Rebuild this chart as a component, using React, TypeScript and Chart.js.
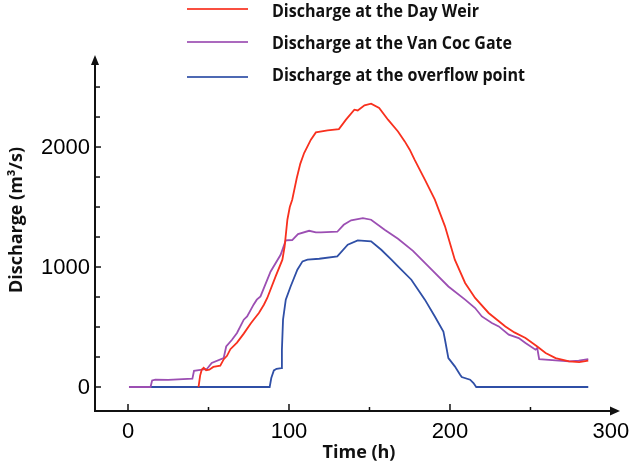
import React, { useEffect, useRef } from "react";
import { Chart, registerables } from "chart.js";

Chart.register(...registerables);

// ---- Data (time in hours, discharge in m3/s) ----
const dayWeirTime = [43.8, 44.8, 45.8, 47, 48.5, 50.5, 53, 57.3, 59.5, 61.5, 63.6, 67.7, 71.9, 76, 78, 81.3, 84.4, 86.5, 91.7, 95.9, 97.3, 99, 100.5, 102, 104.8, 107, 109.4, 113.6, 116.7, 124, 131, 135.4, 140.6, 142.7, 146.9, 151, 156, 161.5, 167.7, 171.9, 175, 178, 184.4, 190.6, 196.9, 203, 209.4, 215.6, 224, 234.4, 240, 246.9, 254.2, 259.4, 265.6, 274, 280.3, 285.9];
const dayWeirQ = [0, 95, 144, 160, 140, 144, 167, 178, 232, 260, 315, 370, 445, 525, 561, 617, 686, 742, 922, 1061, 1172, 1394, 1500, 1561, 1740, 1860, 1950, 2061, 2122, 2138, 2150, 2228, 2311, 2305, 2347, 2361, 2325, 2228, 2130, 2047, 1978, 1895, 1728, 1561, 1339, 1061, 867, 742, 617, 505, 455, 408, 338, 283, 241, 213, 208, 219];

const vanCocTime = [0.6, 14, 15, 17, 25, 40, 41, 45, 49, 52, 59.4, 61, 64.6, 67.7, 71.9, 74, 78, 80, 82.3, 88.6, 94.8, 98, 102, 105.6, 112.5, 116.7, 119.8, 130, 134, 138.6, 145.9, 151, 159.4, 167.7, 177, 188.6, 199, 209.4, 215.6, 219.8, 226, 230.3, 236.5, 242.7, 246.9, 253.1, 254.2, 255.4, 265.6, 274, 280, 285.9];
const vanCocQ = [0, 0, 55, 62, 60, 70, 135, 142, 150, 200, 240, 338, 394, 450, 561, 588, 686, 728, 755, 963, 1102, 1222, 1225, 1275, 1302, 1288, 1288, 1294, 1352, 1389, 1408, 1394, 1311, 1236, 1135, 978, 838, 728, 658, 588, 533, 505, 436, 408, 367, 311, 325, 233, 222, 213, 220, 233];

const overflowTime = [1, 88, 89, 90.6, 92.3, 95.2, 95.6, 96.3, 98, 101, 105.2, 108.4, 111.5, 118.8, 130, 136.5, 142.7, 151, 157.3, 163.6, 167.7, 176, 184.4, 190.6, 195.9, 196.9, 199, 203, 206.3, 207.3, 212.5, 214.6, 216.3, 285.9];
const overflowQ = [0, 0, 75, 138, 152, 158, 311, 561, 728, 838, 978, 1047, 1061, 1069, 1089, 1186, 1222, 1214, 1144, 1061, 1005, 894, 728, 588, 463, 394, 241, 172, 102, 83, 61, 33, 0, 0];

const seriesLabels = [
  "Discharge at the Day Weir",
  "Discharge at the Van Coc Gate",
  "Discharge at the overflow point",
];
const seriesColors = ["#f8301e", "#9c4fb3", "#2f4fa6"];

const xTickValues = [0, 100, 200, 300];
const xMinorTicks = [50, 150, 250];
const yTickValues = [0, 1000, 2000];
const yMinorTicks = [250, 500, 750, 1250, 1500, 1750, 2250, 2500];

const xTitle = "Time (h)";
const yTitle = "Discharge (m³/s)";

const toPoints = (t: number[], q: number[]) => t.map((x, i) => ({ x, y: q[i] }));

const AXIS_COLOR = "#111111";
const BOLD_FONT = "'Open Sans', Lato, sans-serif";

const decorPlugin = {
  id: "decor",
  afterDraw(chart: any) {
    const { ctx, chartArea: a, scales } = chart;
    const xs = scales.x;
    const ys = scales.y;
    ctx.save();
    ctx.strokeStyle = AXIS_COLOR;
    ctx.fillStyle = AXIS_COLOR;
    ctx.lineWidth = 2;
    ctx.lineCap = "butt";

    // x axis line + arrow
    const xTip = a.right + 5;
    ctx.beginPath();
    ctx.moveTo(a.left - 1, a.bottom);
    ctx.lineTo(xTip - 6, a.bottom);
    ctx.stroke();
    ctx.beginPath();
    ctx.moveTo(xTip, a.bottom);
    ctx.lineTo(xTip - 10, a.bottom - 4.5);
    ctx.lineTo(xTip - 10, a.bottom + 4.5);
    ctx.closePath();
    ctx.fill();

    // y axis line + arrow
    const yTip = a.top;
    ctx.beginPath();
    ctx.moveTo(a.left, a.bottom + 1);
    ctx.lineTo(a.left, yTip + 6);
    ctx.stroke();
    ctx.beginPath();
    ctx.moveTo(a.left, yTip);
    ctx.lineTo(a.left - 4, yTip + 10);
    ctx.lineTo(a.left + 4, yTip + 10);
    ctx.closePath();
    ctx.fill();

    // ticks
    ctx.lineWidth = 1.5;
    xTickValues.forEach((v) => {
      const px = xs.getPixelForValue(v);
      if (px > a.right - 8) return;
      ctx.beginPath();
      ctx.moveTo(px, a.bottom);
      ctx.lineTo(px, a.bottom - 7);
      ctx.stroke();
    });
    xMinorTicks.forEach((v) => {
      const px = xs.getPixelForValue(v);
      ctx.beginPath();
      ctx.moveTo(px, a.bottom);
      ctx.lineTo(px, a.bottom - 4);
      ctx.stroke();
    });
    yTickValues.forEach((v) => {
      const py = ys.getPixelForValue(v);
      ctx.beginPath();
      ctx.moveTo(a.left, py);
      ctx.lineTo(a.left + 6, py);
      ctx.stroke();
    });
    yMinorTicks.forEach((v) => {
      const py = ys.getPixelForValue(v);
      ctx.beginPath();
      ctx.moveTo(a.left, py);
      ctx.lineTo(a.left + 5, py);
      ctx.stroke();
    });

    // tick labels
    ctx.fillStyle = "#000";
    ctx.font = "22px 'Liberation Sans', Arial, sans-serif";
    ctx.textAlign = "center";
    ctx.textBaseline = "middle";
    xTickValues.forEach((v) => {
      ctx.fillText(String(v), xs.getPixelForValue(v), a.bottom + 21);
    });
    ctx.textAlign = "right";
    yTickValues.forEach((v) => {
      ctx.fillText(String(v), a.left - 5, ys.getPixelForValue(v) + 1);
    });

    // axis titles
    ctx.font = `bold 18px ${BOLD_FONT}`;
    ctx.textAlign = "center";
    ctx.textBaseline = "alphabetic";
    ctx.fillStyle = "#111";
    ctx.fillText(xTitle, 359, 458, 73);
    ctx.save();
    ctx.translate(22, 220);
    ctx.rotate(-Math.PI / 2);
    ctx.fillText(yTitle, 0, 0, 146);
    ctx.restore();

    // legend
    const lineY = [9, 42, 77];
    const textBase = [17, 49, 81];
    const textW = [207, 240, 253];
    ctx.font = `bold 18px ${BOLD_FONT}`;
    ctx.textAlign = "left";
    chart.data.datasets.forEach((ds: any, i: number) => {
      ctx.strokeStyle = ds.borderColor;
      ctx.globalAlpha = 0.85;
      ctx.lineWidth = 2;
      ctx.beginPath();
      ctx.moveTo(187, lineY[i]);
      ctx.lineTo(248, lineY[i]);
      ctx.stroke();
      ctx.globalAlpha = 1;
      ctx.fillStyle = "#111";
      ctx.fillText(ds.label, 272, textBase[i], textW[i]);
    });

    ctx.restore();
  },
};

export default function App() {
  const canvasRef = useRef<HTMLCanvasElement | null>(null);

  useEffect(() => {
    document.body.style.margin = "0";
    const canvas = canvasRef.current;
    if (!canvas) return;
    const chart = new Chart(canvas, {
      type: "line",
      data: {
        datasets: [
          {
            label: seriesLabels[0],
            data: toPoints(dayWeirTime, dayWeirQ),
            borderColor: seriesColors[0],
            backgroundColor: seriesColors[0],
          },
          {
            label: seriesLabels[1],
            data: toPoints(vanCocTime, vanCocQ),
            borderColor: seriesColors[1],
            backgroundColor: seriesColors[1],
          },
          {
            label: seriesLabels[2],
            data: toPoints(overflowTime, overflowQ),
            borderColor: seriesColors[2],
            backgroundColor: seriesColors[2],
          },
        ],
      },
      options: {
        responsive: false,
        maintainAspectRatio: false,
        devicePixelRatio: 1,
        animation: false,
        layout: { padding: { left: 95, right: 18, top: 55, bottom: 59 } },
        elements: {
          point: { radius: 0, hoverRadius: 0 },
          line: { borderWidth: 1.8, tension: 0 },
        },
        scales: {
          x: { type: "linear", display: false, min: -20.5, max: 302.5 },
          y: { type: "linear", display: false, min: -200, max: 2767 },
        },
        plugins: {
          legend: { display: false },
          tooltip: { enabled: false },
          title: { display: false },
        },
      },
      plugins: [decorPlugin],
    });
    return () => chart.destroy();
  }, []);

  return (
    <div style={{ width: 633, height: 470 }}>
      <canvas ref={canvasRef} width={633} height={470} style={{ display: "block" }} />
    </div>
  );
}
